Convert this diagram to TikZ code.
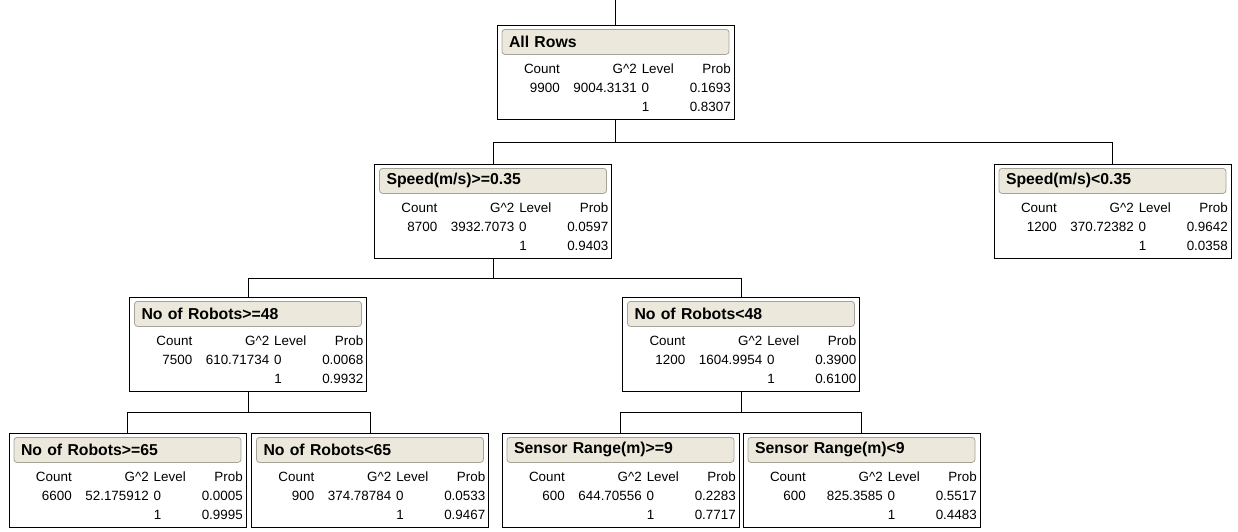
\documentclass[tikz,border=0pt]{standalone}
\usepackage{fontspec}
\setmainfont{Liberation Sans}
\usepackage{array}
\usepackage{tikz}
\usetikzlibrary{positioning}

\definecolor{hdrfill}{RGB}{236,233,220}
\definecolor{hdrline}{RGB}{165,163,152}

\setlength{\tabcolsep}{0pt}
\newcolumntype{R}[1]{>{\raggedleft\arraybackslash}p{#1}}
\newcolumntype{L}[1]{>{\raggedright\arraybackslash}p{#1}}
\newcommand{\splitstats}[4]{%
  \begin{tabular}{@{}R{63pt}R{77pt}@{\hspace{5pt}}L{35pt}R{54pt}@{}}
    Count & G\textasciicircum 2 & Level & Prob\\
    #1 & #2 & 0 & #3\\
       &    & 1 & #4
  \end{tabular}}

\begin{document}
\begin{tikzpicture}[x=1pt, y=-1pt,
  box/.style={draw, line width=0.9pt, minimum width=237pt, minimum height=94pt, inner sep=0pt, anchor=north},
  head/.style={draw=hdrline, fill=hdrfill, rounded corners=3pt, line width=0.8pt, text width=213pt, inner xsep=7pt, inner ysep=0pt, minimum height=25pt, align=left, font=\fontsize{15.8}{18}\selectfont\bfseries},
  stats/.style={inner sep=0pt, font=\fontsize{13.4}{19}\selectfont},
  link/.style={draw, line width=0.9pt}
  ]

\useasboundingbox (0,0) rectangle (1238,531);

% 분할 상자
\node[box] (r) at (615.5,25) {};
\node[head, below=4pt of r.north] (rh) {All Rows};
\node[stats, below right=35pt and 0pt of r.north west] (rt) {\splitstats{9900}{9004.3131}{0.1693}{0.8307}};

\node[box] (s1) at (493,164) {};
\node[head, below=4pt of s1.north] (s1h) {Speed(m/s)>=0.35};
\node[stats, below right=35pt and 0pt of s1.north west] (s1t) {\splitstats{8700}{3932.7073}{0.0597}{0.9403}};

\node[box] (s2) at (1112.5,164) {};
\node[head, below=4pt of s2.north] (s2h) {Speed(m/s)<0.35};
\node[stats, below right=35pt and 0pt of s2.north west] (s2t) {\splitstats{1200}{370.72382}{0.9642}{0.0358}};

\node[box] (n1) at (248,297) {};
\node[head, below=4pt of n1.north] (n1h) {No of Robots>=48};
\node[stats, below right=35pt and 0pt of n1.north west] (n1t) {\splitstats{7500}{610.71734}{0.0068}{0.9932}};

\node[box] (n2) at (741,297) {};
\node[head, below=4pt of n2.north] (n2h) {No of Robots<48};
\node[stats, below right=35pt and 0pt of n2.north west] (n2t) {\splitstats{1200}{1604.9954}{0.3900}{0.6100}};

\node[box] (a1) at (127.5,433) {};
\node[head, below=4pt of a1.north] (a1h) {No of Robots>=65};
\node[stats, below right=35pt and 0pt of a1.north west] (a1t) {\splitstats{6600}{52.175912}{0.0005}{0.9995}};

\node[box] (a2) at (370,433) {};
\node[head, below=4pt of a2.north] (a2h) {No of Robots<65};
\node[stats, below right=35pt and 0pt of a2.north west] (a2t) {\splitstats{900}{374.78784}{0.0533}{0.9467}};

\node[box] (b1) at (620.5,433) {};
\node[head, below=4pt of b1.north] (b1h) {Sensor Range(m)>=9};
\node[stats, below right=35pt and 0pt of b1.north west] (b1t) {\splitstats{600}{644.70556}{0.2283}{0.7717}};

\node[box] (b2) at (861.5,433) {};
\node[head, below=4pt of b2.north] (b2h) {Sensor Range(m)<9};
\node[stats, below right=35pt and 0pt of b2.north west] (b2t) {\splitstats{600}{825.3585}{0.5517}{0.4483}};

% 연결선
\coordinate (top) at (615.5,0);
\draw[link] (top) -- (r.north);
\draw[link] (r.south) -- ++(0,22.5) coordinate (f0);
\draw[link] (s1.north) |- (f0) -| (s2.north);
\draw[link] (s1.south) -- ++(0,19.5) coordinate (f1);
\draw[link] (n1.north) |- (f1) -| (n2.north);
\draw[link] (n1.south) -- ++(0,21) coordinate (f2);
\draw[link] (a1.north) |- (f2) -| (a2.north);
\draw[link] (n2.south) -- ++(0,21) coordinate (f3);
\draw[link] (b1.north) |- (f3) -| (b2.north);

\end{tikzpicture}
\end{document}
